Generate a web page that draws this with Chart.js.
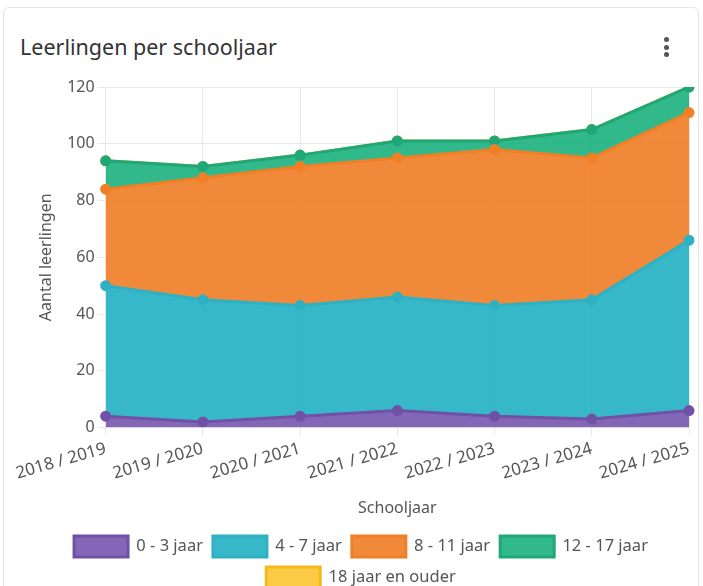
<!DOCTYPE html>
<html>
<head>
<meta charset="utf-8">
<script src="https://cdn.jsdelivr.net/npm/chart.js@4"></script>
<style>
  html, body { margin: 0; padding: 0; background: #fff; }
  body { width: 703px; height: 586px; position: relative; overflow: hidden; font-family: 'Noto Sans', sans-serif; }
  .card { position: absolute; left: 3px; top: 7px; width: 694px; height: 600px; border: 1px solid #e6e6e6; border-radius: 6px; box-shadow: 0 1px 2px rgba(0,0,0,0.04); }
  .title { position: absolute; left: 20px; top: 32px; font-size: 21.5px; color: #333; }
  .menu { position: absolute; left: 664px; top: 37px; width: 6px; }
  .menu span { display: block; width: 5px; height: 5px; border-radius: 50%; background: #555; margin-bottom: 2.5px; }
  #wrap { position: absolute; left: 0; top: 72px; width: 703px; height: 526px; }
</style>
</head>
<body>
<div class="card"></div>
<div class="title">Leerlingen per schooljaar</div>
<div class="menu"><span></span><span></span><span></span></div>
<div id="wrap"><canvas id="myChart" width="703" height="526"></canvas></div>
<script>
'use strict'
// schooljaren
const labels = ['2018 / 2019', '2019 / 2020', '2020 / 2021', '2021 / 2022', '2022 / 2023', '2023 / 2024', '2024 / 2025']
// aantal leerlingen per leeftijdsgroep
const age0to3 = [4, 2, 4, 6, 4, 3, 6]
const age4to7 = [46, 43, 39, 40, 39, 42, 60]
const age8to11 = [34, 43, 49, 49, 55, 50, 45]
const age12to17 = [10, 4, 4, 6, 3, 10, 9]
const age18plus = [0, 0, 0, 0, 0, 0, 0]
const yTicks = [0, 20, 40, 60, 80, 100, 120]

function serie(label, data, line, fillColor, fill) {
  return {
    label: label,
    data: data,
    borderColor: line,
    backgroundColor: fillColor,
    pointBackgroundColor: line,
    pointBorderColor: line,
    pointRadius: 4,
    borderWidth: 3,
    tension: 0,
    fill: fill,
  }
}

const ctx = document.getElementById('myChart').getContext('2d')
const myChart = new Chart(ctx, {
  type: 'line',
  data: {
    labels: labels,
    datasets: [
      serie('0 - 3 jaar', age0to3, '#7150a8', 'rgba(118, 86, 174, 0.9)', 'origin'),
      serie('4 - 7 jaar', age4to7, '#2fb1c4', 'rgba(33, 176, 195, 0.9)', '-1'),
      serie('8 - 11 jaar', age8to11, '#f07f26', 'rgba(238, 124, 37, 0.9)', '-1'),
      serie('12 - 17 jaar', age12to17, '#1fa777', 'rgba(27, 177, 126, 0.9)', '-1'),
      serie('18 jaar en ouder', age18plus, '#f5b91c', 'rgba(251, 197, 49, 0.9)', '-1'),
    ],
  },
  options: {
    responsive: false,
    animation: false,
    layout: { padding: { left: 33, right: 14, top: 15, bottom: 0 } },
    plugins: {
      tooltip: { enabled: false },
      legend: {
        position: 'bottom',
        labels: {
          boxWidth: 54,
          boxHeight: 21,
          padding: 10,
          color: '#555',
          font: { family: 'Noto Sans', size: 16.5 },
        },
      },
    },
    scales: {
      x: {
        grid: { color: '#e8e8e8' },
        border: { display: false },
        ticks: {
          color: '#555',
          minRotation: 16,
          maxRotation: 16,
          font: { family: 'Noto Sans', size: 17 },
        },
        title: {
          display: true,
          text: 'Schooljaar',
          color: '#555',
          padding: { top: 12, bottom: 8 },
          font: { family: 'Noto Sans', size: 16 },
        },
      },
      y: {
        stacked: true,
        min: 0,
        max: 120,
        grid: { color: '#e8e8e8' },
        border: { display: false },
        afterBuildTicks: (axis) => {
          axis.ticks = yTicks.map((v) => ({ value: v }))
        },
        ticks: {
          color: '#555',
          font: { family: 'Noto Sans', size: 16 },
        },
        title: {
          display: true,
          text: 'Aantal leerlingen',
          color: '#555',
          padding: { top: 4, bottom: 8 },
          font: { family: 'Noto Sans', size: 16 },
        },
      },
    },
  },
})
</script>
</body>
</html>
